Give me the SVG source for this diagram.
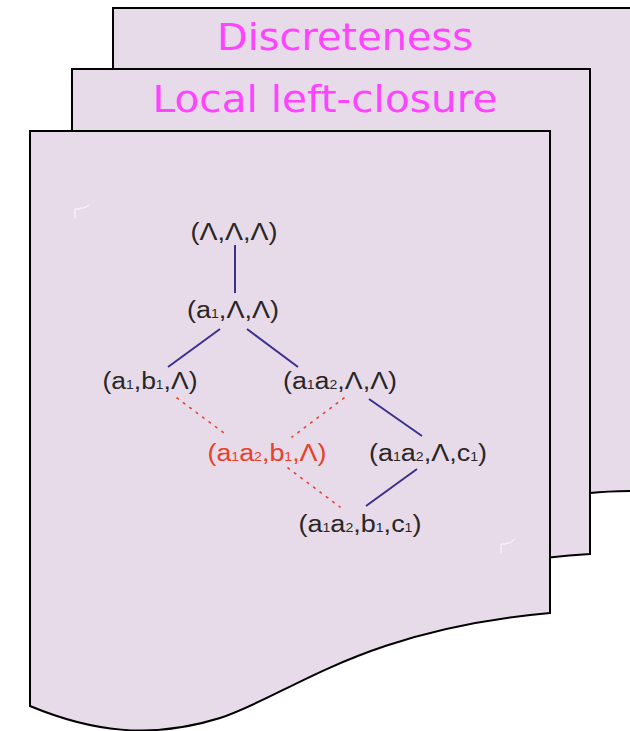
<svg xmlns="http://www.w3.org/2000/svg" width="630" height="731" viewBox="0 0 630 731">
<style>
.page{fill:#e7dbea;stroke:#000;stroke-width:2;stroke-linejoin:miter}
.title{font-family:"Comic Sans MS","DejaVu Sans",sans-serif;fill:#ff44ff;text-anchor:middle}
.lbl{font-family:"Liberation Sans",Arial,sans-serif;font-size:23px;fill:#2a2626;text-anchor:middle}
.red{fill:#e8402a}
.sub{font-size:12px}
.edge{stroke:#3b2f8c;stroke-width:2;fill:none}
.dot{stroke:#e8402a;stroke-width:1.6;fill:none;stroke-dasharray:1.6 6.4;stroke-linecap:round}
.mark{stroke:#ffffff;stroke-width:1;fill:none;opacity:0.85}
</style>
<g id="page-discreteness">
<path class="page" d="M113,8 H640 V491 C620,491 600,492 590,493 L113,493 Z"/>
<text class="title" x="345" y="50" font-size="38" textLength="256" lengthAdjust="spacingAndGlyphs">Discreteness</text>
</g>
<g id="page-local-left-closure">
<path class="page" d="M72,69 H590 V554 C470,560 390,600 320,636 C250,672 160,700 72,620 Z"/>
<text class="title" x="325" y="112" font-size="38" textLength="345" lengthAdjust="spacingAndGlyphs">Local left-closure</text>
</g>
<g id="page-main">
<path class="page" d="M30,131 H550 V613 C360,630 290,695 220,718 C150,740 90,731 30,706 Z"/>
<path class="mark" d="M75,219 V209 H80 V208 H84 L89,205"/>
<path class="mark" d="M501,553 V544 H506 V543 H510 L515,539"/>
</g>
<g id="connectors">
<line class="edge" x1="235" y1="245" x2="235" y2="293"/>
<line class="edge" x1="220" y1="329" x2="168" y2="367"/>
<line class="edge" x1="247" y1="329" x2="298" y2="367"/>
<line class="edge" x1="369" y1="399" x2="422" y2="436"/>
<line class="edge" x1="417" y1="469" x2="366" y2="506"/>
<line class="dot" x1="177" y1="398" x2="228" y2="436"/>
<line class="dot" x1="344" y1="398" x2="292" y2="437"/>
<line class="dot" x1="288" y1="468" x2="340" y2="507"/>
</g>
<g id="n-root"><text class="lbl" x="234" y="240" textLength="87" lengthAdjust="spacingAndGlyphs">(Λ,Λ,Λ)</text></g>
<g id="n-a1"><text class="lbl" x="233" y="318" textLength="92" lengthAdjust="spacingAndGlyphs">(a<tspan class="sub">1</tspan>,Λ,Λ)</text></g>
<g id="n-a1b1"><text class="lbl" x="150" y="389" textLength="95" lengthAdjust="spacingAndGlyphs">(a<tspan class="sub">1</tspan>,b<tspan class="sub">1</tspan>,Λ)</text></g>
<g id="n-a1a2"><text class="lbl" x="340" y="389" textLength="114" lengthAdjust="spacingAndGlyphs">(a<tspan class="sub">1</tspan>a<tspan class="sub">2</tspan>,Λ,Λ)</text></g>
<g id="n-a1a2b1"><text class="lbl red" x="267" y="461" textLength="119" lengthAdjust="spacingAndGlyphs">(a<tspan class="sub">1</tspan>a<tspan class="sub">2</tspan>,b<tspan class="sub">1</tspan>,Λ)</text></g>
<g id="n-a1a2c1"><text class="lbl" x="428" y="461" textLength="118" lengthAdjust="spacingAndGlyphs">(a<tspan class="sub">1</tspan>a<tspan class="sub">2</tspan>,Λ,c<tspan class="sub">1</tspan>)</text></g>
<g id="n-a1a2b1c1"><text class="lbl" x="360" y="532" textLength="123" lengthAdjust="spacingAndGlyphs">(a<tspan class="sub">1</tspan>a<tspan class="sub">2</tspan>,b<tspan class="sub">1</tspan>,c<tspan class="sub">1</tspan>)</text></g>
</svg>
